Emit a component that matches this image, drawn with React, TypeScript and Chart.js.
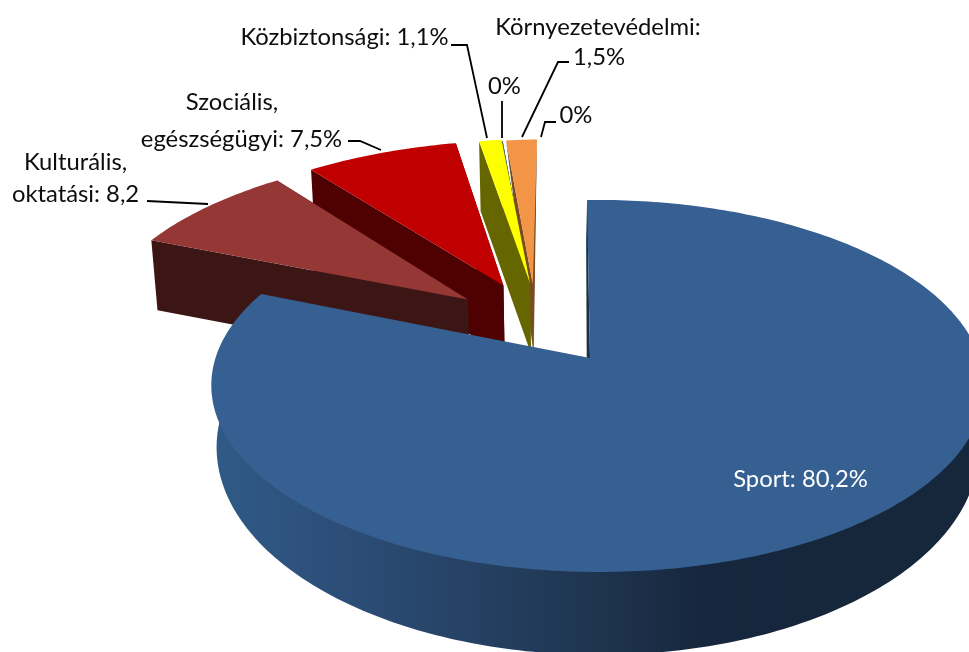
import React, { useEffect, useRef } from "react";
import { Chart, registerables } from "chart.js";

Chart.register(...registerables);

const categories = ["Sport", "Kulturális, oktatási", "Szociális, egészségügyi", "Közbiztonsági", "Egyéb A", "Környezetvédelmi", "Egyéb B"];
const values = [80.2, 8.2, 7.5, 1.1, 0.1, 1.5, 0.02];
const explodePercent = [0, 48, 49, 47, 46, 46, 46];
const explodeTurnDeg = [0, 8, -5.5, -12.5, -15.5, -17, -20];
const sliceRadius = [1, 1.045, 1.04, 1.04, 1.04, 1.04, 1.04];
const outerDepthScale = [1, 1, 1, 1, 0, 0, 0];
const topColors = ["#366092", "#953735", "#C00000", "#FFFF00", "#2F5270", "#F39547", "#F39547"];
const wallColors = ["#1B2F47", "#3C1614", "#4F0000", "#666600", "#1F3B55", "#7A4A20", "#7A4A20"];
const FONT = "Lato, 'Open Sans', sans-serif";

type Label = { t: string; x: number; y: number; c?: string };
const labelTexts: Label[] = [
  { t: "Környezetevédelmi:", x: 598, y: 35 },
  { t: "1,5%", x: 599, y: 65 },
  { t: "0%", x: 504.5, y: 94 },
  { t: "0%", x: 576, y: 123 },
  { t: "Közbiztonsági: 1,1%", x: 344.5, y: 45 },
  { t: "Szociális,", x: 232, y: 110 },
  { t: "egészségügyi: 7,5%", x: 241.5, y: 147 },
  { t: "Kulturális,", x: 75.5, y: 170 },
  { t: "oktatási: 8,2", x: 75.5, y: 202 },
  { t: "Sport: 80,2%", x: 800.5, y: 487, c: "#FFFFFF" },
];
const leaders: number[][] = [
  [147, 201, 208, 204],
  [348, 141, 360, 141, 381, 150],
  [451, 45, 467, 45, 487, 138],
  [502, 101, 502, 138],
  [569, 62, 558, 62, 522, 137],
  [556, 122, 545, 122, 541, 137],
];

// perspective of the pie plane
const CX = 590, CY = 358, B = 382, A = 181.8, K = 0.15, M = 0.02;
const proj = (u: number, v: number) => {
  const w = 1 - K * v - M * u;
  return { x: CX + (B * u) / w, y: CY + (A * v) / w };
};

const pie3d = {
  id: "pie3d",
  beforeDatasetDraw(chart: any) {
    const ctx: CanvasRenderingContext2D = chart.ctx;
    const arcs = chart.getDatasetMeta(0).data;
    for (let i = arcs.length - 1; i >= 0; i--) {
      const arc = arcs[i];
      const { startAngle, endAngle } = arc.getProps(["startAngle", "endAngle"], true);
      const dist = (arc.options.offset || 0) / 100;
      const exploded = dist > 0;
      const mid = (startAngle + endAngle) / 2 + (explodeTurnDeg[i] * Math.PI) / 180;
      const ou = Math.cos(mid) * dist;
      const ov = Math.sin(mid) * dist;
      const r = sliceRadius[i];
      const bottom = (p: { x: number; y: number }) => ({
        x: CX + (p.x - CX) * 0.986,
        y: p.y + (exploded ? 70 : 62 + 0.113 * (p.y - 386)),
      });
      const ring = (rad: number) => {
        const out: { x: number; y: number }[] = [];
        const n = Math.max(2, Math.ceil((endAngle - startAngle) * 60));
        for (let s = 0; s <= n; s++) {
          const a = startAngle + ((endAngle - startAngle) * s) / n;
          out.push(proj(ou + Math.cos(a) * rad, ov + Math.sin(a) * rad));
        }
        return out;
      };
      const top = ring(r);
      const n = top.length - 1;
      const apex = proj(ou, ov);
      const fillPath = (pts: { x: number; y: number }[], fill: any) => {
        ctx.beginPath();
        pts.forEach((p, j) => (j ? ctx.lineTo(p.x, p.y) : ctx.moveTo(p.x, p.y)));
        ctx.closePath();
        ctx.fillStyle = fill;
        ctx.fill();
      };
      // a face hanging below an edge, its depth fading towards the rim
      const face = (rim: { x: number; y: number }) => {
        const b = bottom(rim);
        const k = outerDepthScale[i];
        return [apex, rim, { x: rim.x + (b.x - rim.x) * k, y: rim.y + (b.y - rim.y) * k }, bottom(apex)];
      };
      if (exploded) {
        fillPath(face(top[0]), wallColors[i]);
        fillPath(face(top[n]), wallColors[i]);
      } else {
        const g = ctx.createLinearGradient(211, 0, 969, 0);
        g.addColorStop(0, "#305A87");
        g.addColorStop(0.2, "#2B4C75");
        g.addColorStop(0.5, "#1F3550");
        g.addColorStop(0.65, "#16273D");
        g.addColorStop(1, "#16263B");
        const inner = ring(r - 0.012);
        fillPath([...inner, ...top.map(bottom).reverse()], g);
        const b0 = bottom(top[0]);
        const ba = bottom(apex);
        fillPath([apex, top[0], { x: b0.x - 1, y: b0.y }, { x: ba.x - 3, y: ba.y }], wallColors[i]);
      }
      fillPath([apex, ...top], topColors[i]);
    }
    return false;
  },
  afterDatasetsDraw(chart: any) {
    const ctx: CanvasRenderingContext2D = chart.ctx;
    ctx.save();
    ctx.strokeStyle = "#000000";
    ctx.lineWidth = 1.8;
    leaders.forEach((l) => {
      ctx.beginPath();
      for (let i = 0; i < l.length; i += 2) {
        i ? ctx.lineTo(l[i], l[i + 1]) : ctx.moveTo(l[i], l[i + 1]);
      }
      ctx.stroke();
    });
    ctx.font = `23.8px ${FONT}`;
    ctx.textAlign = "center";
    ctx.textBaseline = "alphabetic";
    labelTexts.forEach((l) => {
      ctx.fillStyle = l.c || "#0D0D0D";
      ctx.fillText(l.t, l.x, l.y);
    });
    ctx.restore();
  },
};

export default function App() {
  const ref = useRef<HTMLCanvasElement>(null);
  useEffect(() => {
    document.body.style.margin = "0";
    const chart = new Chart(ref.current as HTMLCanvasElement, {
      type: "pie",
      data: {
        labels: categories,
        datasets: [{ data: values, backgroundColor: topColors, borderWidth: 0, offset: explodePercent }],
      },
      options: {
        animation: false,
        responsive: false,
        rotation: -0.5,
        plugins: { legend: { display: false }, tooltip: { enabled: false } },
      },
      plugins: [pie3d],
    } as any);
    return () => chart.destroy();
  }, []);
  return <canvas ref={ref} width={969} height={652} style={{ display: "block", background: "#fff" }} />;
}
